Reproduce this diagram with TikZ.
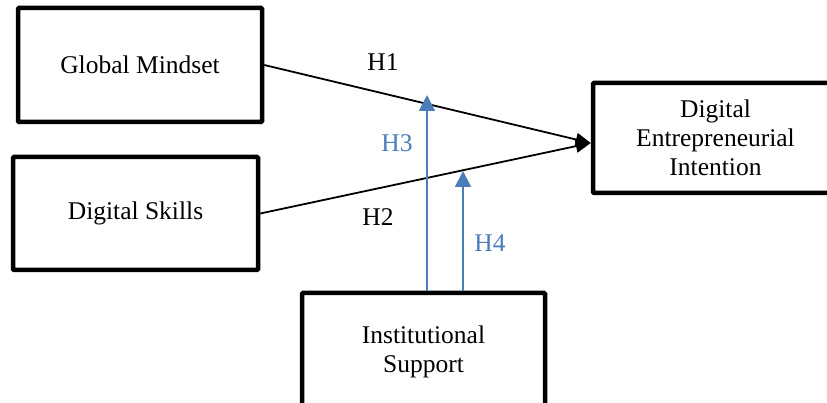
\documentclass[tikz,border=0pt]{standalone}
\usepackage{fontspec}
\setmainfont{Liberation Serif}
\usetikzlibrary{arrows.meta}
\definecolor{hblue}{RGB}{74,126,187}
\begin{document}
\begin{tikzpicture}[x=1pt,y=-1pt,
  box/.style={draw=black,line width=4.5pt,rectangle,rounded corners=1pt,fill=white,
    align=center,font=\fontsize{25.5}{29}\selectfont,inner sep=0pt},
  blk/.style={draw=black,line width=1.8pt,-{Triangle[length=15pt,width=13pt]}},
  blu/.style={draw=hblue,line width=1.8pt,-{Triangle[length=16pt,width=16pt]}},
  lab/.style={font=\fontsize{25.5}{29}\selectfont,inner sep=0pt}]
\useasboundingbox (0,0) rectangle (827,403);
\fill[white] (0,0) rectangle (827,403);
\node[box,minimum width=244pt,minimum height=114pt] (gm) at (140,65) {Global Mindset};
\node[box,minimum width=245pt,minimum height=113pt] (ds) at (135.5,213.5) {Digital Skills};
\node[box,minimum width=245pt,minimum height=110pt] (dei) at (715.5,138) {Digital\\Entrepreneurial\\Intention};
\node[box,minimum width=243pt,minimum height=118pt] (is) at (423.5,352) {Institutional\\Support};
\coordinate (t3) at (427,95);
\coordinate (t4) at (463,171);
\draw[blk] (gm.east) -- ([yshift=-5pt]dei.west);
\draw[blk] (ds.east) -- ([yshift=-5pt]dei.west);
\draw[blu] ([xshift=3.5pt]is.north) -- (t3);
\draw[blu] ([xshift=39.5pt]is.north) -- (t4);
\node[lab] (h1) at (383,62) {H1};
\node[lab] (h2) at (378,217) {H2};
\node[lab,text=hblue] (h3) at (397,143) {H3};
\node[lab,text=hblue] (h4) at (490,243) {H4};
\end{tikzpicture}
\end{document}
